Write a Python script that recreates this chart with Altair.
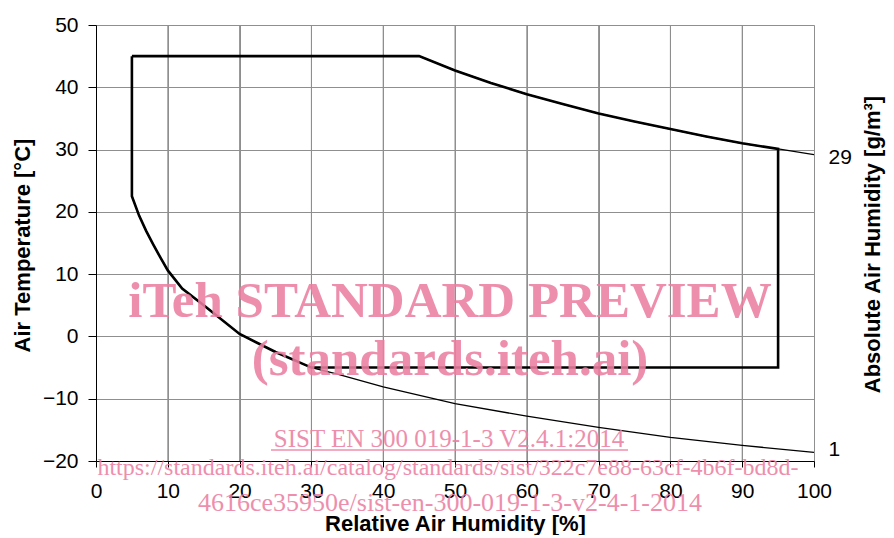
import altair as alt
import pandas as pd

# --- data ---
# envelope corners
env_top_left = (5, 45.0)
env_bottom_right = (95, -5.0)

# 29 g/m3 absolute humidity curve (RH %, air temperature degC)
upper_rh = [45, 50, 55, 60, 65, 70, 75, 80, 85, 90, 95, 100]
upper_t = [45.0, 42.7, 40.7, 38.9, 37.3, 35.8, 34.5, 33.3, 32.1, 31.0, 30.1, 29.2]

# 1 g/m3 absolute humidity curve
lower_rh = [5, 6, 7, 8, 9, 10, 12, 15, 20, 25, 30, 33.5, 40, 50, 60, 70, 80, 90, 100]
lower_t = [22.5, 19.4, 16.9, 14.7, 12.6, 10.6, 7.7, 5.0, 0.4, -2.5, -5.0, -6.0, -8.1,
           -10.8, -12.8, -14.6, -16.2, -17.5, -18.6]

x_ticks = [0, 10, 20, 30, 40, 50, 60, 70, 80, 90, 100]
y_ticks = [-20, -10, 0, 10, 20, 30, 40, 50]
right_tick_values = [28.8, -18.2]
right_tick_labels = ["29", "1"]

# --- build tables ---
env_pts = [env_top_left]
env_pts += [(r, t) for r, t in zip(upper_rh, upper_t) if r <= 95]
env_pts += [env_bottom_right]
env_pts += [(r, t) for r, t in reversed(list(zip(lower_rh, lower_t))) if r <= 30]
env_pts += [env_top_left]
env_df = pd.DataFrame({"rh": [p[0] for p in env_pts], "t": [p[1] for p in env_pts],
                       "o": list(range(len(env_pts)))})
upper_df = pd.DataFrame({"rh": upper_rh, "t": upper_t})
lower_df = pd.DataFrame({"rh": lower_rh, "t": lower_t})
right_df = pd.DataFrame({"v": right_tick_values, "lab": right_tick_labels})
xgrid_df = pd.DataFrame({"g": x_ticks[1:-1]})

FONT = "Liberation Sans"
SERIF = "Liberation Serif"
GRID = "#8f8f8f"

xscale = alt.Scale(domain=[0, 100], nice=False, zero=False)
yscale = alt.Scale(domain=[-20, 50], nice=False, zero=False)

xax = alt.Axis(values=x_ticks, grid=True, gridColor=GRID, gridWidth=1,
               tickSize=6, tickColor="black", domainColor="black", labelFlush=False,
               labelFontSize=21, labelFont=FONT, labelColor="black", labelPadding=13,
               title="Relative Air Humidity [%]", titleFont=FONT, titleFontSize=22,
               titleFontWeight="bold", titleColor="black", titleBaseline="alphabetic",
               titleY=69, titleX=359)
yax = alt.Axis(values=y_ticks, grid=True, gridColor=GRID, gridWidth=1,
               tickSize=8, tickColor="black", domainColor="black", labelFlush=False,
               labelFontSize=21, labelFont=FONT, labelColor="black", labelPadding=10,
               title="Air Temperature [°C]", titleFont=FONT, titleFontSize=22,
               titleFontWeight="bold", titleColor="black", titleAngle=270,
               titleBaseline="middle", titleAlign="center", titleX=-74, titleY=220)

thin_upper = alt.Chart(upper_df).mark_line(color="black", strokeWidth=1.3, clip=True).encode(
    x=alt.X("rh:Q", scale=xscale, axis=xax),
    y=alt.Y("t:Q", scale=yscale, axis=yax),
)
xgrid = alt.Chart(xgrid_df).mark_rule(color=GRID, strokeWidth=1).encode(
    x=alt.X("g:Q", scale=xscale),
)
thin_lower = alt.Chart(lower_df).mark_line(color="black", strokeWidth=1.3, clip=True).encode(
    x=alt.X("rh:Q", scale=xscale),
    y=alt.Y("t:Q", scale=yscale, axis=None),
)
envelope = alt.Chart(env_df).mark_line(color="black", strokeWidth=2.6, strokeJoin="miter").encode(
    x=alt.X("rh:Q", scale=xscale),
    y=alt.Y("t:Q", scale=yscale, axis=None),
    order="o:Q",
)

right_axis = alt.Chart(right_df).mark_point(opacity=0).encode(
    y=alt.Y("v:Q", scale=yscale,
            axis=alt.Axis(orient="right", values=right_tick_values,
                          labelExpr="datum.value > 0 ? '29' : '1'", labelFlush=False,
                          ticks=False, domain=False, grid=False, labelPadding=14,
                          labelFontSize=21, labelFont=FONT, labelColor="black",
                          title="Absolute Air  Humidity [g/m³]", titleFont=FONT,
                          titleFontSize=22, titleFontWeight="bold", titleColor="black",
                          titleAngle=270, titleBaseline="middle", titleAlign="center",
                          titleX=58, titleY=219)),
)

PINK = "#EC7FA2"

def wm(text, x, y, size, weight="normal"):
    return alt.Chart(alt.Data(values=[{}])).mark_text(
        text=text, font=SERIF, fontSize=size, fontWeight=weight, color=PINK,
        opacity=0.88, align="center", baseline="alphabetic",
    ).encode(x=alt.value(x), y=alt.value(y))

# watermark positions are in pixels relative to the plot area
w1 = wm("iTeh STANDARD PREVIEW", 354, 292, 51, "bold")
w2 = wm("(standards.iteh.ai)", 354, 350, 51, "bold")
w3 = wm("SIST EN 300 019-1-3 V2.4.1:2014", 353, 422, 25)
w4 = wm("https://standards.iteh.ai/catalog/standards/sist/322c7e88-63cf-4b6f-bd8d-", 352, 450, 24)
w5 = wm("4616ce35950e/sist-en-300-019-1-3-v2-4-1-2014", 354, 486, 26)
underline = alt.Chart(alt.Data(values=[{}])).mark_rule(color=PINK, opacity=0.88, strokeWidth=1.3).encode(
    x=alt.value(175), x2=alt.value(532), y=alt.value(425))

chart = alt.layer(
    thin_upper, xgrid, thin_lower, envelope, right_axis,
    w1, w2, w3, underline, w4, w5,
).resolve_axis(y="independent").properties(
    width=718, height=436,
    autosize=alt.AutoSizeParams(type="none"),
    padding={"left": 88, "top": 17, "right": 72, "bottom": 74},
).configure_view(stroke="black", strokeWidth=1).configure(background="white")

chart.save("out.html", embed_options={"renderer": "svg", "actions": False})
